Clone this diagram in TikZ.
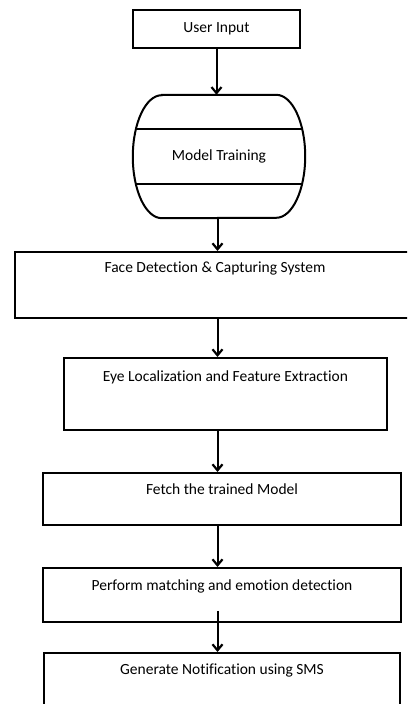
\documentclass[tikz,border=0pt]{standalone}
\usepackage{fontspec}
\setmainfont{Carlito}[Ligatures=NoCommon]
\usetikzlibrary{calc,arrows.meta}

\begin{document}
\begin{tikzpicture}[x=1pt, y=1pt,
    every node/.style={font=\fontsize{15.5}{18}\selectfont},
    box/.style={draw, line width=2pt, inner sep=0pt},
    flow/.style={line width=2pt, -{Straight Barb[length=6pt,width=10pt,line width=2.2pt]}}]

    % Page size of the original figure
    \useasboundingbox (0,0) rectangle (407,704);
    \clip (0,0) rectangle (407,704);

    % x position of the vertical arrows
    \coordinate (spine) at (217.5,0);

    % User input box
    \node[box, minimum width=167pt, minimum height=38pt] (user) at (216.5,675) {User Input};

    % Model training (barrel shape with two bands)
    \node[inner sep=0pt, minimum width=172pt, minimum height=123pt] (train) at (219,547.5) {Model Training};
    \draw[line width=2pt] ([xshift=29pt]train.north west) -- ([xshift=-29pt]train.north east)
        arc[start angle=90, end angle=-90, x radius=29pt, y radius=61.5pt]
        -- ([xshift=29pt]train.south west)
        arc[start angle=270, end angle=90, x radius=29pt, y radius=61.5pt] -- cycle;
    \draw[line width=2pt, shorten <=3pt, shorten >=3pt] ([yshift=27.5pt]train.west) -- ([yshift=27.5pt]train.east);
    \draw[line width=2pt, shorten <=3pt, shorten >=3pt] ([yshift=-27.5pt]train.west) -- ([yshift=-27.5pt]train.east);

    % Processing steps, text sits near the top of each box
    \node[box, minimum width=400pt, minimum height=66pt,
        label={[anchor=center, yshift=-18pt]north:Face Detection \& Capturing System}] (face) at (215,419) {};
    \node[box, minimum width=323pt, minimum height=72pt,
        label={[anchor=center, yshift=-20pt]north:Eye Localization and Feature Extraction}] (eye) at (225.5,310) {};
    \node[box, minimum width=358pt, minimum height=52pt,
        label={[anchor=center, yshift=-17pt]north:Fetch the trained Model}] (fetch) at (222,205) {};
    \node[box, minimum width=358pt, minimum height=54pt,
        label={[anchor=center, yshift=-19pt]north:Perform matching and emotion detection}] (perform) at (222,109) {};
    \node[box, minimum width=356pt, minimum height=70pt,
        label={[anchor=center, yshift=-19pt]north:Generate Notification using SMS}] (notify) at (222,16) {};

    % Arrows
    \draw[flow] (user.south) -- (user.south |- train.north);
    \draw[flow] (train.south -| spine) -- (face.north -| spine);
    \draw[flow] (face.south -| spine) -- (eye.north -| spine);
    \draw[flow] (eye.south -| spine) -- (fetch.north -| spine);
    \draw[flow] (fetch.south -| spine) -- (perform.north -| spine);
    % this one starts inside the box
    \draw[flow] ($(perform.south -| spine)+(0,12)$) -- (notify.north -| spine);

\end{tikzpicture}
\end{document}
